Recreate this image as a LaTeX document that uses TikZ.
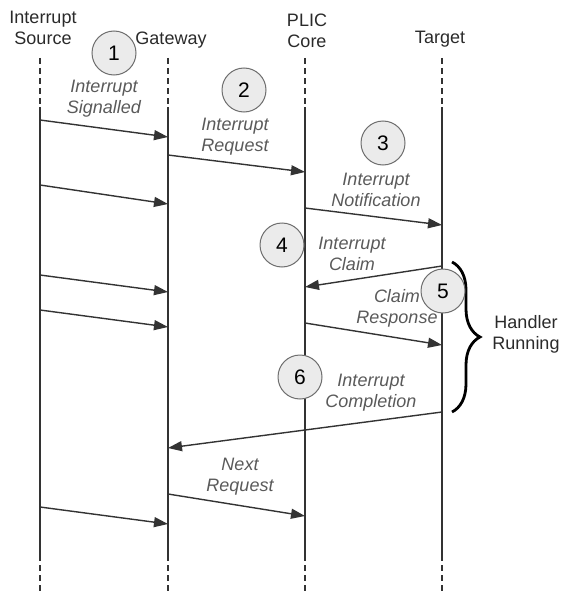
\documentclass[tikz,border=0pt]{standalone}
\usepackage{fontspec}
\setmainfont{Liberation Sans}
\usetikzlibrary{arrows.meta,decorations.pathreplacing}
\definecolor{linec}{HTML}{333333}
\definecolor{lblc}{HTML}{5A5A5A}
\definecolor{hdrc}{HTML}{2A2A2A}
\definecolor{circd}{HTML}{6E6E6E}
\definecolor{circf}{HTML}{EBEBEB}
\begin{document}
\begin{tikzpicture}[x=1pt,y=-1pt,
  life/.style={draw=linec, line width=1.4pt},
  lifedash/.style={draw=linec, line width=1.4pt, dash pattern=on 6pt off 4pt},
  msg/.style={draw=linec, line width=1.4pt, -{Triangle[length=14pt,width=10pt]}},
  lbl/.style={font=\fontsize{18}{21}\selectfont\itshape, text=lblc, align=center, inner sep=0pt},
  hdr/.style={font=\fontsize{18}{21}\selectfont, text=hdrc, align=center, inner sep=0pt},
  num/.style={circle, draw=circd, fill=circf, line width=1pt, minimum size=44pt, inner sep=0pt, font=\fontsize{21}{24}\selectfont, text=black},
  brc/.style={draw=black, line width=2.8pt, decorate, decoration={brace, amplitude=28pt}}]
\useasboundingbox (0,0) rectangle (563,594);

% headers
\node[hdr] (hsrc) at (43,28) {Interrupt\\Source};
\node[hdr] (hgw) at (171,40) {Gateway};
\node[hdr] (hplic) at (307,31) {PLIC\\Core};
\node[hdr] (htgt) at (440,39) {Target};

% lifelines
\foreach \n/\x in {src/40, gw/168, plic/305, tgt/442} {
  \coordinate (\n A) at (\x,58);
  \coordinate (\n B) at (\x,107);
  \coordinate (\n C) at (\x,555);
  \coordinate (\n D) at (\x,594);
  \draw[lifedash] (\n A) -- (\n B);
  \draw[life] (\n B) -- (\n C);
  \draw[lifedash] (\n C) -- (\n D);
}

% message end points
\coordinate (m1s) at (40,120);  \coordinate (m1e) at (168,137);
\coordinate (m2s) at (168,155); \coordinate (m2e) at (305,172);
\coordinate (m3s) at (305,208); \coordinate (m3e) at (442,225);
\coordinate (m4s) at (442,266); \coordinate (m4e) at (305,287);
\coordinate (m5s) at (305,323); \coordinate (m5e) at (442,345);
\coordinate (m6s) at (442,412); \coordinate (m6e) at (168,448);
\coordinate (m7s) at (168,494); \coordinate (m7e) at (305,516);
\coordinate (s2s) at (40,185);  \coordinate (s2e) at (168,204);
\coordinate (s3s) at (40,275);  \coordinate (s3e) at (168,292);
\coordinate (s4s) at (40,310);  \coordinate (s4e) at (168,327);
\coordinate (s5s) at (40,507);  \coordinate (s5e) at (168,524);

\draw[msg] (m1s) -- (m1e);
\draw[msg] (m2s) -- (m2e);
\draw[msg] (m3s) -- (m3e);
\draw[msg] (m4s) -- (m4e);
\draw[msg] (m5s) -- (m5e);
\draw[msg] (m6s) -- (m6e);
\draw[msg] (m7s) -- (m7e);
\draw[msg] (s2s) -- (s2e);
\draw[msg] (s3s) -- (s3e);
\draw[msg] (s4s) -- (s4e);
\draw[msg] (s5s) -- (s5e);

% labels
\node[lbl] (l1) at (104,99) {Interrupt\\Signalled};
\node[lbl] (l2) at (235,137) {Interrupt\\Request};
\node[lbl] (l3) at (376,190) {Interrupt\\Notification};
\node[lbl] (l4) at (352,254) {Interrupt\\Claim};
\node[lbl] (l5) at (397,308) {Claim\\Response};
\node[lbl] (l6) at (371,393) {Interrupt\\Completion};
\node[lbl] (l7) at (240,477) {Next\\Request};

% brace
\coordinate (bt) at (452,262);
\coordinate (bb) at (452,412);
\draw[brc] (bt) -- (bb);
\node[hdr] (hr) at (526,334) {Handler\\Running};

% step circles
\node[num] (c1) at (114,53) {1};
\node[num] (c2) at (244,90) {2};
\node[num] (c3) at (383,143) {3};
\node[num] (c4) at (282,245) {4};
\node[num] (c5) at (443,291) {5};
\node[num] (c6) at (300,377) {6};
\end{tikzpicture}
\end{document}
